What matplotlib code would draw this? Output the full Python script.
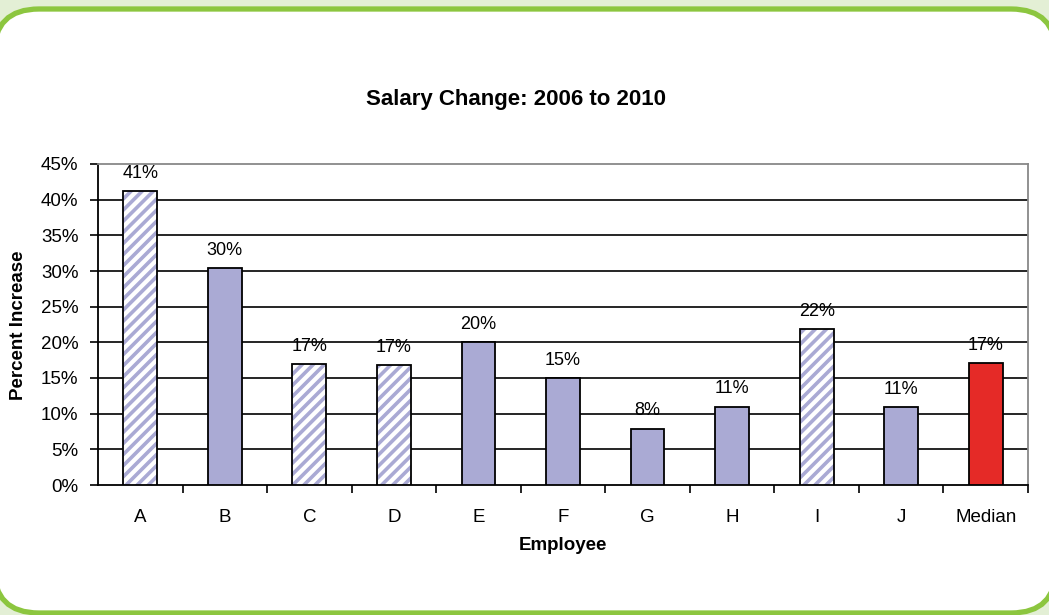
import matplotlib
matplotlib.use("Agg")
import matplotlib.pyplot as plt
from matplotlib.patches import FancyBboxPatch

plt.rcParams['font.family'] = ['Liberation Sans', 'DejaVu Sans']
plt.rcParams['hatch.linewidth'] = 2.6

categories = ["A", "B", "C", "D", "E", "F", "G", "H", "I", "J", "Median"]
values = [41.2, 30.4, 17.0, 16.8, 20.0, 15.0, 7.9, 11.0, 21.8, 10.9, 17.1]
styles = ["hatch", "solid", "hatch", "hatch", "solid", "solid", "solid", "solid", "hatch", "solid", "median"]
yticks = [0, 5, 10, 15, 20, 25, 30, 35, 40, 45]

purple = "#aaaad4"
red = "#e52a27"

W, H = 1049, 615
fig = plt.figure(figsize=(W / 100, H / 100), dpi=100)
fig.patch.set_facecolor("#e3efd5")

# rounded frame (inches)
frame = FancyBboxPatch((-0.06, 0.02), 10.62, 6.04,
                       boxstyle="round,pad=0,rounding_size=0.45",
                       transform=fig.dpi_scale_trans, facecolor="white",
                       edgecolor="#8cc63f", linewidth=3.8, zorder=-5)
fig.patches.append(frame)

ax = fig.add_axes([98 / W, 1 - 485 / H, 930 / W, 321 / H])
ax.set_facecolor("none")
ax.set_zorder(2)

x = list(range(len(categories)))
for xi, v, s in zip(x, values, styles):
    if s == "hatch":
        ax.bar(xi, v, width=0.4, color="white", edgecolor=purple,
               hatch="///", linewidth=0, zorder=3)
        ax.bar(xi, v, width=0.4, fill=False, edgecolor="black",
               linewidth=1.3, zorder=4)
    else:
        c = red if s == "median" else purple
        ax.bar(xi, v, width=0.4, color=c, edgecolor="black",
               linewidth=1.3, zorder=3)
    ax.annotate(f"{int(round(v))}%", (xi, v), xytext=(0, 9.5),
                textcoords="offset points", ha="center", va="baseline",
                fontsize=13, zorder=5)

for t in yticks[1:-1]:
    ax.axhline(t, color="black", linewidth=1.2, zorder=1)

ax.set_xlim(-0.5, len(categories) - 0.5)
ax.set_ylim(0, 45)
ax.set_yticks(yticks)
ax.set_yticklabels([f"{t}%" for t in yticks], fontsize=13.5)
ax.set_xticks(x)
ax.set_xticklabels(categories, fontsize=13.5)
ax.set_xticks([i + 0.5 for i in range(len(categories))], minor=True)
ax.tick_params(axis="x", which="major", length=0, pad=17)
ax.tick_params(axis="x", which="minor", length=6, width=1.2, direction="out")
ax.tick_params(axis="y", length=6, width=1.2, direction="out", pad=8)

for side in ["left", "bottom"]:
    ax.spines[side].set_color("black")
    ax.spines[side].set_linewidth(1.3)
for side in ["top", "right"]:
    ax.spines[side].set_color("#888888")
    ax.spines[side].set_linewidth(1.3)

fig.text(516 / W, 1 - 100 / H, "Salary Change: 2006 to 2010", ha="center",
         va="center", fontsize=16, fontweight="bold")
fig.text(19 / W, 1 - 325 / H, "Percent Increase", ha="center", va="center",
         rotation=90, fontsize=13.5, fontweight="bold")
fig.text(563 / W, 1 - 545 / H, "Employee", ha="center", va="center",
         fontsize=13.5, fontweight="bold")

fig.savefig("out.png", dpi=100, facecolor=fig.get_facecolor())
